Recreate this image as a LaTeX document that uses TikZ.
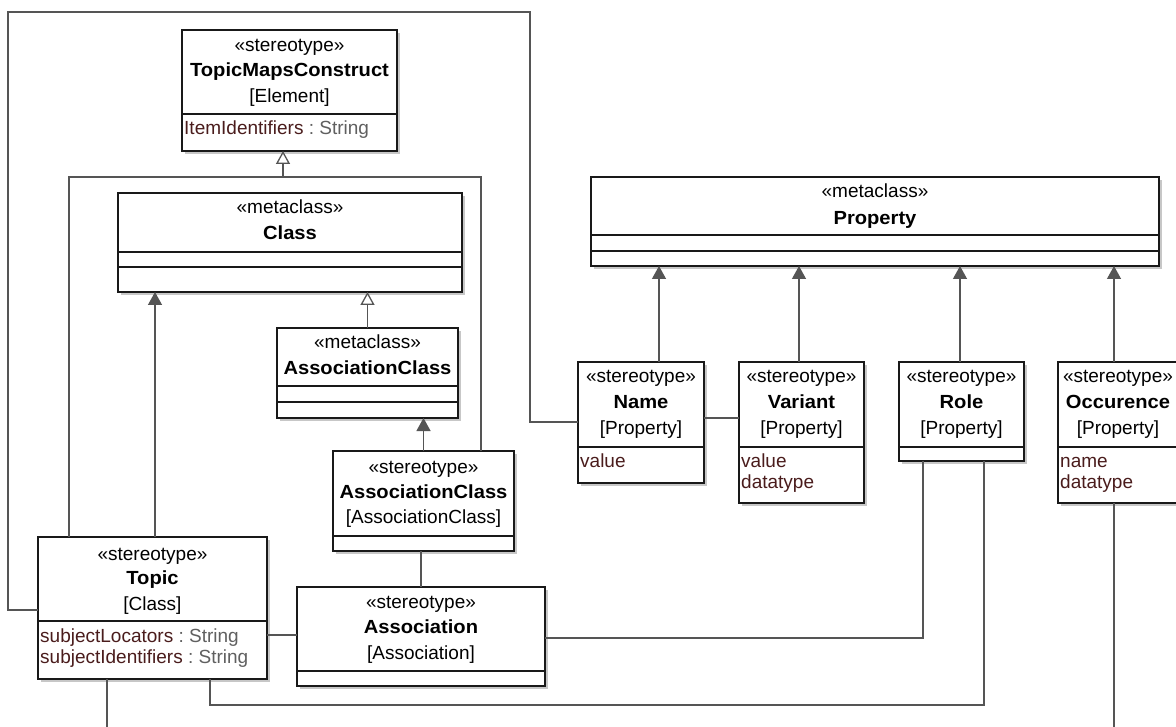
\documentclass[tikz,border=0pt]{standalone}
\usepackage{fontspec}
\setmainfont{Liberation Sans}
\newfontfamily\hdfont{Liberation Sans}[FakeStretch=1.06]
\usetikzlibrary{arrows.meta,calc,shadows}

\definecolor{edge}{HTML}{555555}
\definecolor{attr}{HTML}{4A1C1C}
\definecolor{typ}{HTML}{606060}

\tikzset{
  umlbox/.style={draw=black!90, line width=1.5pt, fill=white, inner sep=0pt, outer sep=0pt,
    anchor=north west,
    drop shadow={shadow xshift=3pt, shadow yshift=-3pt, fill=black!22, opacity=1}},
  divider/.style={draw=black!90, line width=1.5pt},
  lbl/.style={inner sep=0pt, text height=14pt, text depth=4pt, font=\fontsize{19}{22}\selectfont},
  ttl/.style={lbl, font=\fontsize{19}{22}\selectfont\hdfont\bfseries},
  att/.style={lbl, anchor=west, text=attr},
  conn/.style={draw=edge, line width=1.3pt},
  gen/.style={conn, -{Triangle[open, width=14pt, length=13pt, fill=white]}},
  real/.style={conn, -{Triangle[width=14pt, length=13pt, fill=edge]}},
}

% box named #1 with corners (#2,#3) and (#4,#5), in pixel units, y pointing down
\newcommand\umlnode[5]{\node[umlbox, minimum width={#4-#2}, minimum height={#5-#3}] (#1) at (#2,#3) {};}
% horizontal compartment line across box #1 at height #2
\newcommand\compart[2]{\draw[divider] (#1.west |- 0,#2) -- (#1.east |- 0,#2);}
% typed attribute: name, then the type in grey
\newcommand\typed[2]{#1\ \textcolor{typ}{:\ #2}}

\begin{document}
\begin{tikzpicture}[x=1pt, y=-1pt]
\useasboundingbox (0,0) rectangle (1176,727);
\fill[white] (0,0) rectangle (1176,727);
\clip (0,0) rectangle (1176,727);

% ---------- classes ----------
\umlnode{tmc}{182}{30}{397}{151}
\compart{tmc}{114}
\node[lbl] (tmc-st) at (289.5,47) {«stereotype»};
\node[ttl] (tmc-nm) at (289.5,72) {TopicMapsConstruct};
\node[lbl] (tmc-mc) at (289.5,98) {[Element]};
\node[att] (tmc-a1) at (184,130) {\typed{ItemIdentifiers}{String}};

\umlnode{cls}{118}{193}{462}{292}
\compart{cls}{252}
\compart{cls}{267}
\node[lbl] (cls-st) at (290,209) {«metaclass»};
\node[ttl] (cls-nm) at (290,235) {Class};

\umlnode{acm}{277}{328}{458}{418}
\compart{acm}{386}
\compart{acm}{402}
\node[lbl] (acm-st) at (367.5,344) {«metaclass»};
\node[ttl] (acm-nm) at (367.5,370) {AssociationClass};

\umlnode{sac}{333}{451}{514}{551}
\compart{sac}{536}
\node[lbl] (sac-st) at (423.5,468) {«stereotype»};
\node[ttl] (sac-nm) at (423.5,493) {AssociationClass};
\node[lbl] (sac-mc) at (423.5,518) {[AssociationClass]};

\umlnode{topic}{38}{537}{267}{679}
\compart{topic}{621}
\node[lbl] (topic-st) at (152.5,555) {«stereotype»};
\node[ttl] (topic-nm) at (152.5,579) {Topic};
\node[lbl] (topic-mc) at (152.5,605) {[Class]};
\node[att] (topic-a1) at (40,637) {\typed{subjectLocators}{String}};
\node[att] (topic-a2) at (40,658) {\typed{subjectIdentifiers}{String}};

\umlnode{assoc}{297}{587}{545}{686}
\compart{assoc}{671}
\node[lbl] (assoc-st) at (421,603) {«stereotype»};
\node[ttl] (assoc-nm) at (421,628) {Association};
\node[lbl] (assoc-mc) at (421,654) {[Association]};

\umlnode{prop}{591}{177}{1159}{266}
\compart{prop}{235}
\compart{prop}{251}
\node[lbl] (prop-st) at (875,193) {«metaclass»};
\node[ttl] (prop-nm) at (875,220) {Property};

\umlnode{name}{578}{362}{704}{483}
\compart{name}{447}
\node[lbl] (name-st) at (641,378) {«stereotype»};
\node[ttl] (name-nm) at (641,403) {Name};
\node[lbl] (name-mc) at (641,430) {[Property]};
\node[att] (name-a1) at (580,462) {value};

\umlnode{variant}{739}{362}{864}{503}
\compart{variant}{447}
\node[lbl] (variant-st) at (801.5,378) {«stereotype»};
\node[ttl] (variant-nm) at (801.5,403) {Variant};
\node[lbl] (variant-mc) at (801.5,430) {[Property]};
\node[att] (variant-a1) at (741,462) {value};
\node[att] (variant-a2) at (741,483) {datatype};

\umlnode{role}{899}{362}{1024}{461}
\compart{role}{447}
\node[lbl] (role-st) at (961.5,378) {«stereotype»};
\node[ttl] (role-nm) at (961.5,403) {Role};
\node[lbl] (role-mc) at (961.5,430) {[Property]};

\umlnode{occ}{1058}{362}{1182}{503}
\compart{occ}{447}
\node[lbl] (occ-st) at (1118,378) {«stereotype»};
\node[ttl] (occ-nm) at (1118,403) {Occurence};
\node[lbl] (occ-mc) at (1118,430) {[Property]};
\node[att] (occ-a1) at (1060,462) {name};
\node[att] (occ-a2) at (1060,483) {datatype};

% ---------- connectors ----------
\coordinate (genjoin) at (283,177);
\draw[conn] (topic.north -| 69,0) |- (genjoin) -| (sac.north -| 481,0);
\draw[gen] (genjoin) -- (tmc.south -| genjoin);

\draw[real] (topic.north -| 155,0) -- (cls.south -| 155,0);
\draw[gen] (acm.north) -- (acm.north |- cls.south);
\draw[real] (sac.north) -- (sac.north |- acm.south);
\draw[conn] (assoc.north) -- (assoc.north |- sac.south);

\draw[conn] (topic.east |- 0,635) -- (assoc.west |- 0,635);
\draw[conn] (assoc.east |- 0,638) -| (role.south -| 923,0);

\coordinate (lowturn) at (984,705);
\draw[conn] (topic.south -| 210,0) |- (lowturn) -- (role.south -| lowturn);

\coordinate (topicout) at (107,727);
\draw[conn] (topic.south -| topicout) -- (topicout);
\coordinate (occout) at (1114,727);
\draw[conn] (occ.south -| occout) -- (occout);

\coordinate (frameTL) at (8,12);
\coordinate (frameR) at (530,422);
\draw[conn] (topic.west |- 0,610) -| (frameTL) -| (frameR) -- (name.west |- frameR);

\draw[conn] (name.east |- 0,418) -- (variant.west |- 0,418);

\draw[real] (name.north -| 659,0) -- (prop.south -| 659,0);
\draw[real] (variant.north -| 799,0) -- (prop.south -| 799,0);
\draw[real] (role.north -| 960,0) -- (prop.south -| 960,0);
\draw[real] (occ.north -| 1114,0) -- (prop.south -| 1114,0);
\end{tikzpicture}
\end{document}
